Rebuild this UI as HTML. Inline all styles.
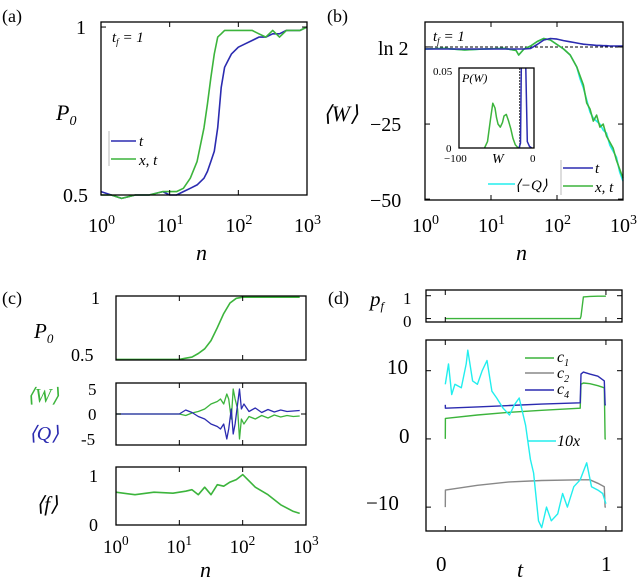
<!DOCTYPE html>
<html><head><meta charset="utf-8">
<style>
html,body{margin:0;padding:0;background:#fff;}
svg{display:block;}
text{font-family:"Liberation Serif",serif;fill:#000;}
.it{font-style:italic;}
</style></head>
<body>
<svg id="fig" width="640" height="581" viewBox="0 0 640 581" xmlns="http://www.w3.org/2000/svg"></svg>
<script>
// ---------- data ----------
const aLogN = [0,0.15,0.3,0.5,0.7,0.9,1.0,1.1,1.2,1.3,1.4,1.5,1.55,1.6,1.65,1.7,1.75,1.8,1.85,1.9,1.95,2.0,2.1,2.2,2.3,2.4,2.5,2.6,2.7,2.8,2.9,3.0];
const aBlue = [0.51,0.50,0.49,0.50,0.50,0.51,0.50,0.50,0.51,0.52,0.53,0.55,0.57,0.60,0.63,0.70,0.82,0.88,0.90,0.92,0.93,0.94,0.95,0.96,0.97,0.97,0.98,0.98,0.99,0.99,0.99,1.0];
const aGreen = [0.50,0.50,0.49,0.50,0.50,0.51,0.51,0.51,0.52,0.55,0.60,0.70,0.77,0.85,0.92,0.97,0.98,0.99,0.99,0.99,0.99,0.99,0.99,0.99,0.98,0.97,0.99,0.97,0.99,0.99,0.99,1.0];
const bLogN = [0,0.3,0.6,0.9,1.2,1.38,1.42,1.5,1.6,1.7,1.8,1.9,2.0,2.1,2.2,2.25,2.3,2.35,2.4,2.45,2.5,2.55,2.6,2.65,2.7,2.75,2.8,2.85,2.9,2.95,3.0];
const bGreen = [0,0.2,-0.3,0,0.2,-0.5,-2,0,1,2.5,3.5,3,1.5,0,-2,-4,-6,-9,-12,-18,-20,-24,-22,-26,-25,-29,-31,-33,-37,-40,-43];
const bCyan  = [0,0.2,-0.3,0,0.2,-0.5,-2,0,1,2.5,3.5,3,1.5,0,-2,-4,-6,-10,-13,-17,-21,-23,-24,-25,-27,-28,-32,-34,-36,-41,-44];
const bBlue  = [0,0,0,0,0,0,0,0,0.2,1.5,3,3.5,3.3,2.8,2.4,2.2,2.0,1.8,1.6,1.5,1.4,1.3,1.2,1.2,1.1,1.1,1.0,1.0,1.0,1.0,1.0];
const inW = [-66,-62,-58,-55,-52,-50,-48,-45,-42,-40,-37,-34,-31,-28,-25,-22,-20];
const inP = [0,0.004,0.018,0.028,0.025,0.019,0.015,0.013,0.016,0.020,0.021,0.017,0.012,0.006,0.002,0.0005,0];
const inBW = [-20,-18,-17,-17,-11,-11,-9,-6,-3];
const inBP = [0,0.003,0.05,0.06,0.06,0.05,0.004,0.001,0];
const cLogN = [0,0.3,0.6,0.9,1.0,1.1,1.2,1.3,1.4,1.5,1.6,1.7,1.8,1.9,2.0,2.2,2.4,2.6,2.8,2.9];
const cP0 = [0.47,0.47,0.47,0.47,0.47,0.48,0.49,0.52,0.56,0.63,0.74,0.86,0.95,0.99,1.0,1.0,1.0,1.0,1.0,1.0];
const cWLogN = [0,0.5,1.0,1.1,1.2,1.3,1.4,1.5,1.6,1.65,1.7,1.75,1.78,1.82,1.85,1.88,1.92,1.95,1.98,2.02,2.1,2.2,2.3,2.4,2.5,2.6,2.7,2.8,2.9];
const cW = [0,0,0,-0.3,0.2,0.5,1,2,2.5,3,2,4,3,-1,5,3,1,-5,-1,-2,-0.5,-1,-0.3,-0.8,-0.2,-0.6,-0.3,-0.5,-0.4];
const cQ = [0,0,0,0.8,0.3,-0.5,-1,-2,-2.5,-3,-2,-5,-3,1,-4,-2,2,5,1,2,0.5,1.2,0.3,0.9,0.4,0.8,0.5,0.6,0.7];
const cF = [0.6,0.55,0.6,0.58,0.6,0.62,0.65,0.55,0.7,0.55,0.75,0.72,0.8,0.85,0.95,0.7,0.55,0.35,0.22,0.18];
const dT = [0,0.001,0.2,0.4,0.6,0.84,0.845,0.86,0.9,0.95,0.99,0.995,1.0];
const dPf = [0,0,0,0,0,0,0.1,0.95,0.97,0.98,0.98,0.98,0.98];
const dC1 = [0,3,3.5,3.9,4.2,4.5,8,8.2,8.1,7.8,7.5,0,0];
const dC2 = [-10,-7.5,-6.8,-6.3,-6.1,-6.0,-6.0,-6.0,-6.0,-6.5,-7,-10,-10];
const dC4 = [5,4.5,4.7,4.9,5.1,5.3,9.5,9.8,9.5,9.2,8.5,5,5];
const dXT = [0,0.02,0.04,0.06,0.1,0.13,0.14,0.17,0.2,0.23,0.26,0.29,0.32,0.36,0.4,0.43,0.46,0.5,0.53,0.55,0.58,0.6,0.63,0.66,0.7,0.73,0.76,0.8,0.84,0.88,0.91,0.95,0.98,1.0];
const dX = [8,11,6.5,8,7.5,11,13,8.5,8,10,11.5,7,6,4.5,3.5,5,6,2,-3,-5,-12,-13,-10,-12,-11,-8,-10,-7,-6,-3.5,-7,-7.5,-8,-9.5];

// ---------- drawing ----------
const NS = "http://www.w3.org/2000/svg";
const svg = document.getElementById('fig');
function el(tag, attrs, parent){
  const e = document.createElementNS(NS, tag);
  for (const k in attrs) e.setAttribute(k, attrs[k]);
  (parent||svg).appendChild(e);
  return e;
}
function axis(x0,x1,y0,y1,dx0,dx1,dy0,dy1){
  return {
    x: v => x0 + (v-dx0)/(dx1-dx0)*(x1-x0),
    y: v => y1 - (v-dy0)/(dy1-dy0)*(y1-y0),
    box:[x0,y0,x1,y1]
  };
}
function frame(ax, name, xt, yt){
  const [x0,y0,x1,y1] = ax.box;
  const r = el('rect',{x:x0,y:y0,width:x1-x0,height:y1-y0,fill:'none',stroke:'#000','stroke-width':1.3});
  
  
  (xt||[]).forEach(v=>{const X=ax.x(v);
    el('line',{x1:X,x2:X,y1:y1,y2:y1-5,stroke:'#000','stroke-width':1});
    el('line',{x1:X,x2:X,y1:y0,y2:y0+5,stroke:'#000','stroke-width':1});});
  (yt||[]).forEach(v=>{const Y=ax.y(v);
    el('line',{x1:x0,x2:x0+5,y1:Y,y2:Y,stroke:'#000','stroke-width':1});
    el('line',{x1:x1,x2:x1-5,y1:Y,y2:Y,stroke:'#000','stroke-width':1});});
}
function line(ax, xs, ys, color, name, w){
  let d='';
  for(let i=0;i<xs.length;i++){ d += (i?'L':'M')+ax.x(xs[i]).toFixed(1)+' '+ax.y(ys[i]).toFixed(1); }
  const p = el('path',{d:d,fill:'none',stroke:color,'stroke-width':w||1.6,'stroke-linejoin':'round'});
  
  
  return p;
}
function txt(x,y,s,size,name,opts){
  const t = el('text',Object.assign({x:x,y:y,'font-size':size},opts||{}));
  t.innerHTML = s;
  
  
  return t;
}
function logTicks(ax, y, size, name){
  [0,1,2,3].forEach(k=>{
    txt(ax.x(k)-13,y,'10<tspan dy="-8" font-size="'+(size*0.7)+'">'+k+'</tspan>',size,name+'-tick-'+k);
  });
}
const BLUE='#2b2bb0', GREEN='#3cb43c', CYAN='#22eeee', GRAY='#888';

// ===== panel a =====
const A = axis(101,307,22,195,0,3,0.5,1.015);
line(A,aLogN,aBlue,BLUE,'a-series-t');
line(A,aLogN,aGreen,GREEN,'a-series-xt');
frame(A,'a',[0,1,2,3],[0.5,1]);
txt(2,22,'(a)',18,'a-panel-label');
txt(76,34,'1',20,'a-ytick-1');
txt(63,202,'0.5',20,'a-ytick-05');
logTicks(A,232,20,'a-xtick');
txt(196,260,'n',22,'a-xlabel',{class:'it'});
txt(56,120,'P<tspan dy="5" font-size="14">0</tspan>',22,'a-ylabel',{class:'it'});
txt(112,42,'t<tspan dy="3" font-size="9">f</tspan><tspan dy="-3"> = 1</tspan>',15,'a-annotation-tf',{class:'it'});
el('line',{x1:109,x2:109,y1:131,y2:166,stroke:'#aaa','stroke-width':0.8});
el('line',{x1:111,x2:136,y1:141,y2:141,stroke:BLUE,'stroke-width':1.6});
txt(139,146,'t',15,'a-legend-t',{class:'it'});
el('line',{x1:111,x2:136,y1:159,y2:159,stroke:GREEN,'stroke-width':1.6});
txt(139,165,'x, t',15,'a-legend-xt',{class:'it'});

// ===== panel b =====
const B = axis(425,623,22,200,0,3,-50.3,9);
el('line',{x1:425,x2:623,y1:B.y(0.69),y2:B.y(0.69),stroke:'#000','stroke-width':1,'stroke-dasharray':'3,2'});
line(B,bLogN,bCyan,CYAN,'b-series-minusQ');
line(B,bLogN,bGreen,GREEN,'b-series-xt');
line(B,bLogN,bBlue,BLUE,'b-series-t');
frame(B,'b',[0,1,2,3],[-50,-25,0.69]);
txt(327,22,'(b)',18,'b-panel-label');
txt(378,55,'ln 2',20,'b-ytick-ln2');
txt(370,131,'−25',20,'b-ytick-25');
txt(370,207,'−50',20,'b-ytick-50');
logTicks(B,232,20,'b-xtick');
txt(516,260,'n',22,'b-xlabel',{class:'it'});
txt(323,121,'⟨W⟩',22,'b-ylabel',{class:'it'});
txt(433,41,'t<tspan dy="3" font-size="9">f</tspan><tspan dy="-3"> = 1</tspan>',15,'b-annotation-tf',{class:'it'});
// inset
const I = axis(459,534,68,148,-100,0,0,0.05);
el('rect',{x:459,y:68,width:75,height:80,fill:'#fff'});
el('line',{x1:I.x(-19),x2:I.x(-19),y1:68,y2:148,stroke:'#000','stroke-width':0.8,'stroke-dasharray':'2,1'});
line(I,inW,inP,GREEN,'inset-pw-xt',1.5);
const cl = el('clipPath',{id:'inclip'}); el('rect',{x:459,y:68,width:75,height:80},cl);
line(I,inBW,inBP,BLUE,'inset-pw-t',1.5).setAttribute('clip-path','url(#inclip)');
frame(I,'inset',[],[]);
txt(433,75,'0.05',11,'inset-ytick-005');
txt(446,152,'0',11,'inset-ytick-0');
txt(444,162,'−100',11,'inset-xtick-100');
txt(530,162,'0',11,'inset-xtick-0');
txt(492,163,'W',14,'inset-xlabel',{class:'it'});
txt(462,82,'P(W)',12,'inset-ylabel',{class:'it'});
el('line',{x1:561,x2:561,y1:160,y2:195,stroke:'#aaa','stroke-width':0.8});
el('line',{x1:563,x2:593,y1:168,y2:168,stroke:BLUE,'stroke-width':1.6});
txt(595,173,'t',15,'b-legend-t',{class:'it'});
el('line',{x1:563,x2:593,y1:186,y2:186,stroke:GREEN,'stroke-width':1.6});
txt(595,192,'x, t',15,'b-legend-xt',{class:'it'});
el('line',{x1:488,x2:515,y1:184,y2:184,stroke:CYAN,'stroke-width':1.6});
txt(515,190,'⟨−Q⟩',15,'b-legend-minusQ',{class:'it'});

// ===== panel c =====
const C1 = axis(116,306,296,360,0,3,0.465,1.01);
line(C1,cLogN,cP0,GREEN,'c-series-p0');
frame(C1,'c-top',[0,1,2,3],[]);
const C2 = axis(116,306,383,445,0,3,-6.2,6.2);
line(C2,cWLogN,cW,GREEN,'c-series-W',1.3);
line(C2,cWLogN,cQ,BLUE,'c-series-Q',1.3);
frame(C2,'c-mid',[0,1,2,3],[0]);
const C3 = axis(116,306,467,525,0,3,-0.05,1.1);
line(C3,cLogN,cF,GREEN,'c-series-f');
frame(C3,'c-bot',[0,1,2,3],[]);
txt(2,304,'(c)',18,'c-panel-label');
txt(91,304,'1',18,'c-top-ytick-1');
txt(71,361,'0.5',18,'c-top-ytick-05');
txt(34,338,'P<tspan dy="5" font-size="13">0</tspan>',21,'c-top-ylabel',{class:'it'});
txt(88,395,'5',17,'c-mid-ytick-5');
txt(88,420,'0',17,'c-mid-ytick-0');
txt(81,445,'-5',17,'c-mid-ytick--5');
txt(27,402,'⟨W⟩',20,'c-mid-ylabel-W',{class:'it',style:'fill:'+GREEN});
txt(29,440,'⟨Q⟩',20,'c-mid-ylabel-Q',{class:'it',style:'fill:'+BLUE});
txt(89,482,'1',18,'c-bot-ytick-1');
txt(89,531,'0',18,'c-bot-ytick-0');
txt(36,511,'⟨f⟩',21,'c-bot-ylabel',{class:'it'});
logTicks(C3,553,19,'c-xtick');
txt(200,577,'n',22,'c-xlabel',{class:'it'});

// ===== panel d =====
const D1 = axis(426,622,290,322,-0.12,1.1,-0.15,1.25);
line(D1,dT,dPf,GREEN,'d-series-pf',1.4);
frame(D1,'d-top',[0,1],[0,1]);
const D2 = axis(426,622,340,531,-0.12,1.1,-13.5,14.5);
line(D2,dT,dC2,GRAY,'d-series-c2',1.4);
line(D2,dT,dC1,GREEN,'d-series-c1',1.4);
line(D2,dT,dC4,BLUE,'d-series-c4',1.4);
line(D2,dXT,dX,CYAN,'d-series-10x',1.4);
frame(D2,'d-main',[0,1],[-10,0,10]);
txt(328,304,'(d)',18,'d-panel-label');
txt(370,306,'p<tspan dy="4" font-size="12">f</tspan>',21,'d-top-ylabel',{class:'it'});
txt(403,304,'1',17,'d-top-ytick-1');
txt(403,327,'0',17,'d-top-ytick-0');
txt(387,374,'10',21,'d-ytick-10');
txt(399,443,'0',21,'d-ytick-0');
txt(366,510,'−10',21,'d-ytick--10');
txt(436,571,'0',21,'d-xtick-0');
txt(601,571,'1',21,'d-xtick-1');
txt(517,577,'t',22,'d-xlabel',{class:'it'});
el('line',{x1:525,x2:554,y1:358,y2:358,stroke:GREEN,'stroke-width':1.4});
txt(557,362,'c<tspan dy="4" font-size="10">1</tspan>',16,'d-legend-c1',{class:'it'});
el('line',{x1:525,x2:554,y1:373,y2:373,stroke:GRAY,'stroke-width':1.4});
txt(557,378,'c<tspan dy="4" font-size="10">2</tspan>',16,'d-legend-c2',{class:'it'});
el('line',{x1:525,x2:554,y1:390,y2:390,stroke:BLUE,'stroke-width':1.4});
txt(557,394,'c<tspan dy="4" font-size="10">4</tspan>',16,'d-legend-c4',{class:'it'});
el('line',{x1:528,x2:556,y1:441,y2:441,stroke:CYAN,'stroke-width':1.4});
txt(557,446,'10x',16,'d-legend-10x',{class:'it'});
</script>
</body></html>
